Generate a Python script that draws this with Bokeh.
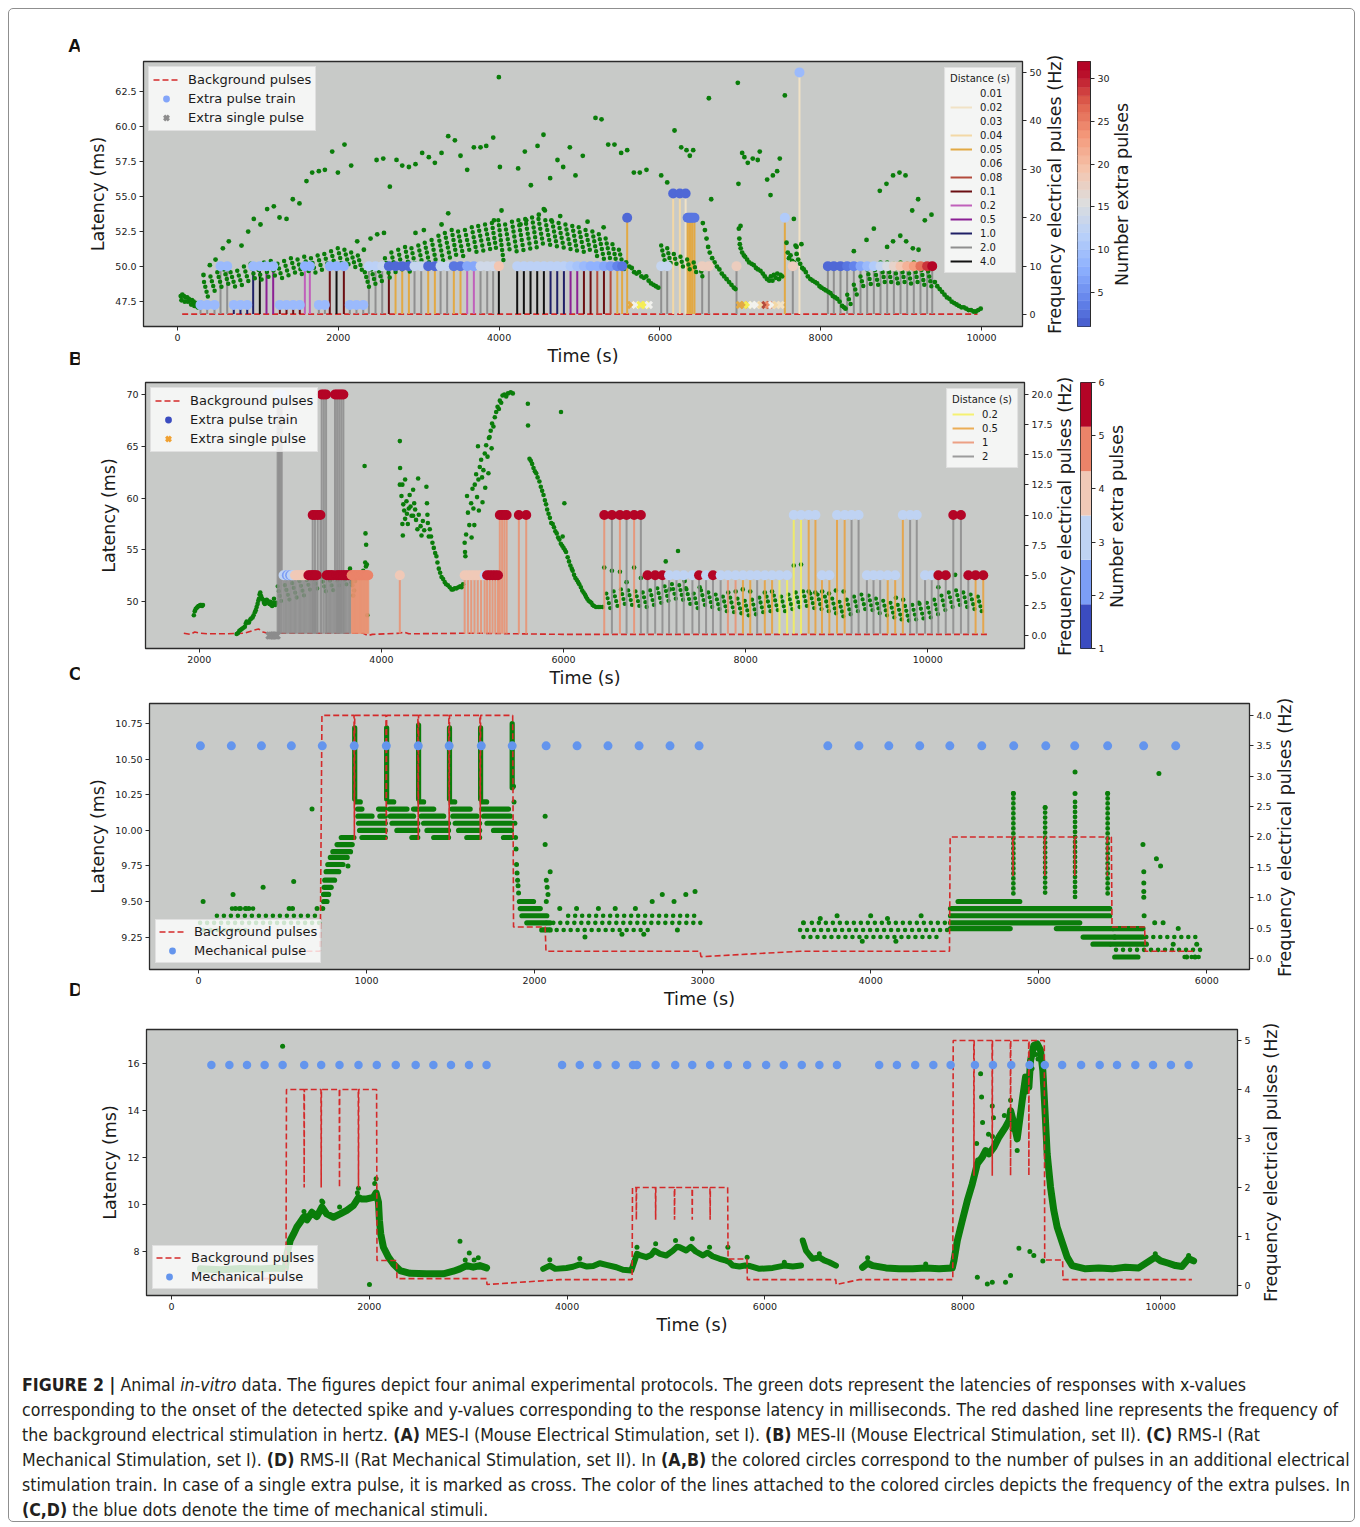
import numpy as np
from bokeh.plotting import figure
from bokeh.models import (Range1d, LinearAxis, Legend, LegendItem,
                          FixedTicker, NumeralTickFormatter, Div, ColumnDataSource)
from bokeh.layouts import column, row
from bokeh.embed import file_html
from bokeh.resources import INLINE

FONT = "DejaVu Sans"
BG = "#c8cac8"; GREEN = "#0a7d0a"; RED = "#d42a2a"; MECH = "#6495ed"; INK = "#1a1a1a"
FREQ_LABEL = "Frequency electrical pulses (Hz)"
CB_LABEL = "Number extra pulses"

# ======================= DATA =======================
# ---------- Panel A (MES-I) ----------
A_bg = [(58, 0.1), (9950, 0.1)]
# (time s, frequency Hz, number of extra pulses, distance s)
A_trains = [
 (286,2,10,2.0),(369,2,10,2.0),(460,2,10,2.0),(535,10,10,2.0),(618,10,10,2.0),
 (700,2,10,1.0),(783,2,10,1.0),(867,2,10,1.0),(941,10,10,1.0),(1024,10,10,4.0),
 (1107,10,10,0.5),(1190,10,10,0.5),(1273,2,10,0.1),(1356,2,10,0.1),(1439,2,10,0.1),
 (1521,2,10,0.1),(1584,10,9,0.2),(1646,10,9,0.2),(1758,2,10,2.0),(1833,2,10,2.0),
 (1894,10,9,0.1),(1978,10,9,4.0),(2069,10,9,0.1),(2143,2,10,2.0),(2226,2,10,2.0),
 (2310,2,10,2.0),(2380,10,13,2.0),(2463,10,13,2.0),(2546,10,14,2.0),(2629,10,3,0.1),
 (2712,10,3,0.05),(2795,10,3,0.05),(2878,10,3,0.05),(2948,10,14,2.0),(3031,10,14,2.0),
 (3118,10,3,0.05),(3201,10,3,0.05),(3272,10,14,2.0),(3354,10,14,2.0),(3437,10,4,0.05),
 (3520,10,4,0.05),(3603,10,8,0.2),(3686,10,8,0.2),(3769,10,15,2.0),(3852,10,15,2.0),
 (3926,10,15,2.0),(3997,10,20,4.0),
 (4225,10,13,4.0),(4308,10,13,4.0),(4391,10,13,4.0),(4474,10,13,4.0),(4557,10,13,4.0),
 (4640,10,13,1.0),(4723,10,13,1.0),(4806,10,13,1.0),(4889,10,12,0.5),(4972,10,11,0.5),
 (5055,10,10,0.1),(5138,10,9,0.1),(5221,10,9,0.08),(5304,10,8,0.1),(5387,10,7,0.08),
 (5470,10,5,0.05),(5530,10,4,0.05),(5593,20,3,0.05),
 (6016,10,14,2.0),(6091,10,14,2.0),(6165,25,3,0.04),(6248,25,3,0.04),(6320,25,3,0.02),
 (6345,20,4,0.05),(6365,20,4,0.05),(6385,20,4,0.05),(6405,20,4,0.05),(6430,20,4,0.05),
 (6526,10,19,2.0),(6609,10,19,2.0),(6953,10,19,2.0),(7554,20,12,0.05),(7653,10,19,2.0),
 (7736,50,10,0.02),
 (8089,10,3,2.0),(8163,10,3,2.0),(8246,10,3,2.0),(8329,10,4,2.0),(8412,10,5,2.0),
 (8495,10,8,2.0),(8578,10,10,2.0),(8661,10,12,2.0),(8744,10,14,2.0),(8827,10,16,2.0),
 (8910,10,18,2.0),(8993,10,20,2.0),(9076,10,22,2.0),(9158,10,24,2.0),(9241,10,27,2.0),
 (9324,10,30,2.0),(9387,10,32,2.0)]
# single extra pulses (time s, distance s), drawn at 2 Hz
A_singles = [(5643,0.05),(5697,0.01),(5759,0.03),(5821,0.03),(5862,0.01),(6994,0.05),
 (7044,0.05),(7094,0.03),(7148,0.01),(7202,0.01),(7260,0.04),(7313,0.08),(7355,0.06),
 (7396,0.01),(7450,0.04),(7500,0.02)]
A_single_f = 2
A_dist_levels = [0.01,0.02,0.03,0.04,0.05,0.06,0.08,0.1,0.2,0.5,1.0,2.0,4.0]
A_dist_labels = ["0.01","0.02","0.03","0.04","0.05","0.06","0.08","0.1","0.2","0.5","1.0","2.0","4.0"]
A_dist_colors = ["#f2f2ee","#f1e2c6","#f5ee55","#f3d8a6","#e2a944","#ec8c68","#b34a3c",
                 "#6b0e12","#c060bb","#8b1f94","#1f1f66","#8f8f8f","#111111"]
# latency responses (time s, latency ms)
A_pts = [
 (40,47.9),(50,47.6),(60,48.0),(80,47.9),(90,47.5),(100,47.8),(120,47.8),(130,47.5),(140,47.7),
 (160,47.6),(170,47.3),(180,47.6),(200,47.5),(210,47.2),(220,47.4),(240,47.4),(250,47.1),
 (260,47.3),(280,47.3),(300,47.4),
 (323,49.4),(402,50.1),(473,50.5),(564,51.3),(638,51.8),(796,51.5),(879,52.5),(949,53.4),
 (1032,53.0),(1115,54.1),(1198,54.3),(1269,53.5),(1356,53.4),(1434,54.8),(1517,54.5),
 (1604,56.1),(1675,56.7),(1758,56.8),(1833,56.9),(1924,58.2),(1995,56.7),(2077,58.7),
 (2160,57.2),(2235,51.8),(2318,51.2),(2401,52.0),(2484,52.3),(2568,52.4),(2476,57.6),
 (2559,57.7),(2641,55.7),(2724,57.6),(2795,57.2),(2878,57.1),(2960,57.3),(3043,58.1),
 (3126,57.8),(3201,57.4),(3284,58.1),(3367,59.3),(3450,59.0),(3520,57.9),(3603,56.9),
 (3686,58.5),(3769,58.5),(3840,58.6),(3927,59.2),(4010,57.1),(3997,63.5),(4237,57.0),
 (4320,58.2),(4395,55.8),(4478,58.6),(4552,59.4),(4635,56.3),(4726,57.6),(2960,52.4),
 (3064,52.6),(3284,53.0),(3367,53.8),(3936,53.3),(4030,54.0),(4266,53.0),(4337,53.3),
 (4494,53.7),(4569,54.0),(4797,57.1),(4880,58.5),(4950,56.5),(5041,57.9),(5199,60.6),
 (5274,60.5),(5357,58.7),(5435,58.7),(5518,58.1),(5593,58.3),(5676,56.7),(5750,56.7),
 (5833,56.9),(6016,56.5),(6091,56.0),(6182,59.7),(6265,58.5),(6331,58.3),(6372,57.9),
 (6414,58.3),(6534,53.1),(6609,62.0),(6638,54.8),(6969,63.1),(6977,55.9),(7023,58.1),
 (7051,57.8),(7093,57.4),(7155,57.7),(7217,57.6),(7242,58.2),(7334,56.2),(7376,55.1),
 (7405,56.5),(7458,56.8),(7491,57.7),(7554,62.2),(7666,53.4),(8735,55.4),(8818,55.9),
 (8900,56.5),(8980,56.7),(9055,56.5),(9138,54.0),(9212,54.8),(9295,53.3),(9378,53.7),
 (8570,51.9),(8661,52.7),(8412,51.1),(8826,51.4),(8900,51.8),(8990,52.2),(9063,51.8),
 (9146,51.3),(9217,51.2),(4556,54.1),(4650,53.3),(4760,53.6),(5100,53.2),(5300,52.8),
 (7003,52.9),(7700,51.4),(7760,51.6),
 (5580,50.3),(5620,50.0),(5650,49.9),(5680,49.6),(5710,49.5),(5740,49.6),(5770,49.3),
 (5800,49.2),(5830,49.3),(5860,49.0),(5890,48.8),(5920,48.7),(5950,48.6),(5980,48.5),
 (6560,52.6),(6580,52.0),(6600,51.4),(6620,51.0),(6650,50.6),(6680,50.3),(6710,50.0),
 (6740,49.8),(6770,49.5),(6800,49.3),(6830,49.1),(6860,48.9),(6890,48.7),(6920,48.5),
 (6940,48.4),
 (6982,52.7),(6988,52.0),(6994,51.6),(7005,51.3),(7023,51.0),(7045,50.8),(7060,50.7),
 (7085,50.5),(7110,50.3),(7140,50.2),(7168,50.1),(7195,49.9),(7220,49.8),(7251,49.7),
 (7280,49.5),(7305,49.3),(7334,49.1),(7360,49.0),(7380,49.3),(7400,49.0),(7417,49.4),
 (7440,49.2),(7460,49.5),(7480,49.1),(7500,49.4),(7520,49.3),
 (7575,51.7),(7590,51.0),(7605,50.6),(7625,50.8),(7645,50.4),(7666,50.3),(7687,51.5),
 (7700,50.9),(7720,50.5),(7745,50.2),(7770,49.9),(7790,49.8),(7815,49.6),(7840,49.3),
 (7873,49.1),(7900,49.0),(7930,48.9),(7956,48.8),(7985,48.6),(8010,48.5),(8039,48.4),
 (8065,48.3),(8095,48.2),(8122,48.1),(8150,47.9),(8180,47.8),(8205,47.7),(8235,47.5),
 (8267,47.2),(8290,47.1),(8309,47.0),
 (9420,48.9),(9450,48.6),(9480,48.4),(9510,48.2),(9540,48.0),(9570,47.8),(9600,47.7),
 (9630,47.5),(9660,47.4),(9690,47.3),(9720,47.2),(9750,47.1),(9780,47.1),(9810,47.0),
 (9840,46.9),(9870,46.9),(9900,46.8),(9930,46.8),(9960,46.9),(9990,47.0)]
# sawtooth runs of responses (t start, lat start, t end, lat end)
A_teeth = [
 (330,48.9,380,47.8),(410,49.3,470,48.1),(495,49.6,555,48.4),(578,49.8,640,48.6),
 (660,49.6,720,48.5),(743,49.7,805,48.6),(826,50.0,890,48.8),(910,50.2,970,49.0),
 (993,50.1,1055,48.9),(1076,50.3,1140,49.1),(1160,50.4,1220,49.2),(1243,50.2,1305,49.1),
 (1326,50.4,1390,49.2),(1410,50.6,1470,49.4),(1493,50.5,1555,49.3),(1576,50.7,1640,49.5),
 (1660,50.6,1720,49.5),(1743,50.8,1805,49.6),(1826,50.9,1890,49.7),(1910,51.1,1970,49.8),
 (1993,51.3,2055,49.9),(2076,51.2,2140,49.9),(2160,51.0,2220,49.8),(2243,50.8,2300,49.6),
 (2330,49.6,2390,48.4),(2410,49.8,2470,48.6),(2490,50.0,2550,48.8),(2580,50.6,2640,49.2),
 (2660,51.0,2720,49.4),(2745,51.2,2805,49.5),(2830,51.4,2890,49.6),(2910,51.3,2970,49.7),
 (2995,51.5,3055,49.9),(3075,51.7,3140,50.0),(3160,51.9,3220,50.2),(3245,52.2,3305,50.4),
 (3325,52.4,3390,50.6),(3410,52.6,3470,50.7),(3490,52.5,3555,50.7),(3575,52.6,3640,50.9),
 (3660,52.8,3720,51.0),(3740,52.9,3805,51.1),(3825,53.0,3890,51.2),(3910,53.1,3970,51.0),
 (3990,53.3,4055,50.4),(4075,53.0,4140,50.9),(4160,53.2,4220,51.0),(4240,53.3,4305,51.1),
 (4325,53.4,4390,51.2),(4410,53.5,4470,51.3),(4490,53.4,4555,51.3),(4575,53.3,4640,51.4),
 (4660,53.2,4720,51.4),(4740,53.1,4805,51.3),(4825,53.0,4890,51.2),(4910,52.9,4970,51.1),
 (4990,52.8,5055,51.0),(5075,52.6,5140,50.9),(5160,52.5,5220,50.7),(5240,52.3,5305,50.5),
 (5325,52.0,5390,50.3),(5410,51.6,5470,50.0),(5490,51.2,5555,49.8),
 (6016,51.5,6060,50.4),(6091,51.3,6135,50.2),(6173,50.9,6220,49.9),(6256,50.7,6300,49.7),
 (6339,50.5,6385,49.5),(6420,50.3,6465,49.3),(6500,50.0,6540,49.0),
 (8330,48.0,8380,47.2),(8412,48.7,8460,47.8),(8495,49.3,8545,48.3),(8578,49.8,8630,48.6),
 (8661,50.1,8715,48.7),(8744,50.3,8800,48.8),(8827,50.3,8880,48.8),(8910,50.2,8965,48.7),
 (8993,50.3,9050,48.7),(9076,50.2,9130,48.6),(9158,50.3,9215,48.6),(9241,50.1,9295,48.5),
 (9324,50.0,9380,48.5)]

# ---------- Panel B (MES-II) ----------
B_bg = [(1830,0.2),(1900,0.1),(1950,0.3),(2000,0.2),(2100,0.15),(2300,0.15),(2500,0.2),
 (2600,0.45),(2650,0.55),(2700,0.3),(2750,0.2),(3800,0.2),(3850,0.0),(3900,0.1),(4200,0.2),
 (4250,0.3),(4300,0.15),(5000,0.2),(5500,0.15),(6000,0.1),(10650,0.1)]
B_trains = [
 (2860,20,3,2),(2875,20,3,2),(2890,20,3,2),(2905,20,3,2),
 (2925,5,3,2),(2943,5,3,2),(2961,5,2,2),(2979,5,3,2),(2997,5,2,2),(3015,5,3,2),(3033,5,3,2),
 (3051,5,4,2),(3069,5,4,2),(3088,5,4,2),(3106,5,4,2),(3124,5,4,2),(3142,5,4,2),(3160,5,4,2),
 (3180,5,4,2),(3198,5,6,2),(3216,5,6,2),(3234,5,6,2),(3252,5,6,2),(3270,5,6,2),(3289,5,6,2),
 (3245,10,6,2),(3270,10,6,2),(3300,10,6,2),(3330,10,6,2),
 (3344,20,6,2),(3368,20,6,2),(3392,20,6,2),
 (3399,5,6,2),(3417,5,6,2),(3435,5,6,2),(3453,5,6,2),(3471,5,6,2),
 (3490,20,6,2),(3513,20,6,2),(3536,20,6,2),(3559,20,6,2),(3582,20,6,2),
 (3508,5,6,2),(3526,5,6,2),(3544,5,6,2),(3562,5,6,2),(3581,5,6,2),(3599,5,6,2),(3617,5,6,2),
 (3636,5,6,2),(3655,5,6,2),
 (3673,5,5,1),(3686,5,5,1),(3699,5,5,1),(3712,5,5,1),(3725,5,5,1),(3738,5,5,1),(3751,5,5,1),
 (3764,5,5,1),(3777,5,5,1),(3790,5,5,1),(3803,5,5,1),(3816,5,5,1),(3829,5,5,1),(3842,5,5,1),
 (3855,5,5,1),
 (4202,5,4,1),
 (4914,5,4,1),(4950,5,4,1),(4986,5,4,1),(5022,5,4,1),(5058,5,4,1),(5094,5,4,1),(5133,5,3,1),
 (5160,5,6,1),(5190,5,6,1),(5220,5,6,1),(5250,5,6,1),(5280,5,6,1),
 (5300,10,6,1),(5325,10,6,1),(5350,10,6,1),(5375,10,6,1),(5509,10,6,1),(5590,10,6,1),
 (6447,10,6,1),(6531,10,6,2),(6619,10,6,1),(6692,10,6,2),(6775,10,6,1),(6849,10,6,2),
 (6922,5,6,2),(7006,5,6,2),(7086,5,6,2),(7159,5,3,2),(7240,5,3,2),(7320,5,3,2),(7415,5,3,2),
 (7488,5,6,2),(7565,5,3,2),(7641,5,6,2),(7725,5,3,2),(7805,5,3,1),(7889,5,3,1),(7970,5,3,0.5),
 (8050,5,3,0.5),(8126,5,3,2),(8210,5,3,0.5),(8290,5,3,0.5),(8371,5,3,0.2),(8455,5,3,0.2),
 (8528,10,3,0.2),(8608,10,3,0.2),(8692,10,3,0.5),(8766,10,3,0.5),(8838,5,3,0.5),(8919,5,3,0.5),
 (9003,10,3,0.5),(9087,10,3,0.5),(9163,10,3,2),(9240,10,3,2),(9331,5,3,2),(9404,5,3,2),
 (9477,5,3,2),(9560,5,3,0.5),(9642,5,3,0.5),(9726,10,3,0.5),(9806,10,3,2),(9879,10,3,2),
 (9970,5,3,2),(10043,5,3,2),(10116,5,6,2),(10197,5,6,2),(10280,10,6,2),(10364,10,6,2),
 (10445,5,6,2),(10525,5,6,0.5),(10609,5,6,0.5)]
B_singles = [(2770,2),(2790,2),(2810,2),(2830,2),(2850,2)]
B_single_f = 0
B_dist_levels = [0.2,0.5,1,2]
B_dist_labels = ["0.2","0.5","1","2"]
B_dist_colors = ["#f4f05a","#e9a03a","#ea9170","#8c8c8c"]
B_pts = [
 (1940,48.7),(1950,49.1),(1960,49.3),(1970,49.4),(1980,49.5),(1990,49.6),(2000,49.6),(2010,49.7),
 (2020,49.7),(2030,49.6),(2040,49.7),
 (2410,46.9),(2425,47.0),(2440,47.2),(2455,47.3),(2470,47.4),(2485,47.5),(2500,47.6),(2510,47.9),
 (2520,48.1),(2535,48.0),(2545,48.0),(2560,48.3),(2570,48.4),(2585,48.5),(2596,48.7),(2610,49.0),
 (2620,49.2),(2630,49.5),(2640,49.8),(2648,50.1),(2655,50.3),(2662,50.7),(2669,50.9),(2675,50.6),
 (2680,50.5),(2690,50.3),(2700,50.2),(2710,49.9),(2720,49.8),(2730,50.0),(2740,50.2),(2750,50.1),
 (2760,49.9),(2770,49.8),(2778,50.0),(2790,49.7),(2800,49.6),(2810,49.9),(2820,50.3),(2833,49.7),
 (2845,49.9),
 (3655,53.2),(3665,52.4),(3672,51.9),(3680,51.6),(3690,50.6),(3700,51.1),(3710,52.0),
 (3815,63.1),(3825,56.6),(3832,55.5),(3822,53.8),(3830,53.4),(3840,53.6),(3845,48.7),(3790,52.5),
 (3800,53.0),
 (4202,65.5),(4205,62.9),(4202,61.3),(4230,61.3),(4220,60.2),(4240,59.4),(4250,58.8),(4260,58.0),
 (4275,59.7),(4280,58.5),(4290,57.5),(4300,59.0),(4310,60.3),(4320,59.2),(4330,58.3),(4348,60.8),
 (4348,58.3),(4360,59.5),(4370,58.9),(4380,57.9),(4403,61.9),(4395,57.0),(4410,58.4),(4430,57.3),
 (4440,56.4),(4455,57.8),(4470,56.9),(4494,61.1),(4500,59.5),(4505,58.4),(4510,57.6),(4520,56.3),
 (4531,57.0),(4545,56.3),(4560,55.7),(4575,55.2),(4590,54.7),(4604,54.4),(4615,53.8),(4630,53.2),
 (4645,52.8),(4660,52.4),(4677,52.2),(4695,51.9),(4710,51.7),(4730,51.6),(4750,51.4),(4770,51.2),
 (4786,51.2),(4805,51.3),(4825,51.3),(4845,51.4),(4865,51.5),(4880,51.4),(4896,51.7),(4230,57.5),
 (4235,56.4),(4260,61.8),
 (4914,55.7),(4918,54.8),(4922,54.4),(4930,56.5),(4940,60.2),(4950,58.6),(4965,57.4),(4985,59.5),
 (5000,60.9),(5010,59.0),(5025,61.3),(5040,62.3),(5050,60.1),(5060,65.0),(5065,61.8),(5080,63.0),
 (5095,63.7),(5105,62.0),(5120,62.7),(5135,64.3),(5150,65.1),(5165,64.0),(5180,65.8),(5188,65.9),
 (5200,66.5),(5215,67.2),(5230,66.9),(5245,67.8),(5260,68.3),(5275,68.8),(5290,68.6),(5300,69.4),
 (5315,69.2),(5330,69.9),(5350,70.0),(5370,69.8),(5390,70.1),(5420,70.2),(5443,70.1),(4990,56.2),
 (5020,57.4),(5070,58.8),(5110,59.6),(5140,61.0),(5175,62.4),(5210,64.8),
 (5608,69.1),(5610,67.0),(5626,63.8),(5640,63.6),(5655,63.3),(5670,62.9),(5685,62.6),(5700,62.4),
 (5715,62.0),(5735,61.6),(5750,61.1),(5765,60.7),(5780,60.3),(5795,59.8),(5808,59.4),(5820,58.9),
 (5835,58.5),(5850,58.1),(5865,57.6),(5881,57.5),(5895,57.2),(5910,56.8),(5925,56.6),(5940,56.2),
 (5954,56.0),(5970,55.6),(5985,55.4),(6000,55.2),(6015,55.0),(6027,54.8),(6045,54.3),(6060,53.9),
 (6075,53.5),(6090,53.2),(6100,53.0),(6115,52.6),(6130,52.3),(6145,52.1),(6160,51.9),(6173,51.7),
 (6190,51.4),(6205,51.1),(6220,50.9),(6235,50.7),(6246,50.5),(6260,50.3),(6275,50.1),(6290,50.0),
 (6305,49.9),(6319,49.7),(6335,49.6),(6356,49.5),(6380,49.5),(6400,49.5),(6429,49.5),(5972,68.3),
 (6009,59.5),(5990,56.3),
 (6447,53.3),(6531,53.0),(6619,52.9),(6692,51.9),(6775,53.3),(6849,52.3),(7122,53.9),(7166,51.2),
 (7257,54.9),(7330,52.0),(7342,51.3),(7495,51.4),(7809,50.9),(7890,51.0),(7968,51.2),(8050,51.0),
 (8210,50.9),(8290,51.0),(8528,53.5),(8608,53.6),(8692,51.0),(8765,50.9),(8840,51.0),(8915,50.8),
 (8990,51.1),(9075,51.0),(9650,50.4),(9730,50.2),(9900,49.9),(10116,51.4),(10226,52.5),
 (10300,52.6),(10450,52.4)]
B_teeth = [
 (2860,51.5,2900,50.0),(2940,51.6,2990,50.2),(3020,51.8,3070,50.4),(3100,52.0,3150,50.6),
 (3180,52.1,3230,50.8),(3260,52.2,3310,50.9),(3340,52.4,3390,51.0),(3420,52.5,3470,51.1),
 (3500,52.5,3550,51.2),(3580,52.6,3630,51.3),
 (6470,50.8,6515,49.3),(6550,51.0,6595,49.5),(6630,51.2,6675,49.7),(6710,51.1,6755,49.6),
 (6790,51.0,6835,49.5),(6870,50.9,6915,49.4),(6950,51.1,6995,49.6),(7030,51.3,7075,49.8),
 (7110,51.5,7155,50.0),(7190,51.7,7235,50.2),(7270,51.6,7315,50.1),(7350,51.2,7395,49.7),
 (7430,50.8,7475,49.3),(7510,51.1,7555,49.6),(7590,50.9,7635,49.4),(7670,50.7,7715,49.2),
 (7750,50.5,7795,49.0),(7830,50.4,7875,48.9),(7910,50.3,7955,48.8),(7990,50.1,8035,48.6),
 (8070,50.2,8115,48.7),(8150,50.4,8195,48.9),(8230,50.5,8275,49.0),(8310,50.6,8355,49.1),
 (8390,50.5,8435,49.0),(8470,50.7,8515,49.2),(8550,50.9,8595,49.4),(8630,51.0,8675,49.5),
 (8710,50.8,8755,49.3),(8790,50.7,8835,49.2),(8870,50.5,8915,49.0),(8950,50.3,8995,48.8),
 (9030,50.0,9075,48.5),(9110,50.2,9155,48.7),(9190,50.5,9235,49.0),(9270,50.7,9315,49.2),
 (9350,50.6,9395,49.1),(9430,50.3,9475,48.8),(9510,50.1,9555,48.6),(9590,49.9,9635,48.4),
 (9670,49.7,9715,48.2),(9750,49.6,9795,48.1),(9830,49.7,9875,48.2),(9910,49.8,9955,48.3),
 (9990,49.9,10035,48.4),(10070,50.2,10115,48.7),(10150,50.6,10195,49.1),(10230,50.9,10275,49.4),
 (10310,51.1,10355,49.6),(10390,50.9,10435,49.4),(10470,50.7,10515,49.2),(10550,50.5,10595,49.0)]

# ---------- Panel C (RMS-I) ----------
C_mech_t = [12,196,375,553,737,927,1118,1308,1492,1683,1867,2069,2253,2437,2622,2806,2979,
            3745,3930,4108,4292,4471,4661,4851,5042,5214,5410,5624,5815]
C_mech_f = 3.5
C_bg = [(0,0.12),(725,0.12),(735,4.0),(926,4.0),(928,1.95),(930,4.0),(1116,4.0),(1118,1.95),
 (1120,4.0),(1306,4.0),(1308,1.95),(1310,4.0),(1490,4.0),(1492,1.95),(1494,4.0),(1675,4.0),
 (1677,1.95),(1679,4.0),(1870,4.0),(1875,0.52),(2063,0.52),(2068,0.12),(2985,0.12),(2990,0.03),
 (3580,0.12),(4469,0.12),(4473,2.0),(4845,2.0),(4847,1.36),(4849,2.0),(5034,2.0),(5036,1.36),
 (5038,2.0),(5212,2.0),(5214,1.36),(5216,2.0),(5406,2.0),(5408,1.36),(5410,2.0),(5432,2.0),
 (5436,0.52),(5630,0.52),(5634,0.12),(5918,0.12)]
# dense rows of responses at one latency level (t start, t end, latency ms)
C_rows = [
 (745,765,9.50),(745,775,9.55),(748,790,9.60),(752,810,9.65),(760,835,9.71),(770,860,9.76),
 (785,885,9.81),(800,905,9.85),(825,915,9.90),(850,925,9.95),
 (940,963,10.20),(947,973,10.15),(1072,1112,10.15),(949,1033,10.10),(1080,1112,10.10),
 (953,1112,10.05),(959,1112,10.00),(973,1112,9.95),
 (1132,1162,10.20),(1138,1241,10.15),(1280,1305,10.15),(1142,1280,10.10),(1152,1305,10.05),
 (1181,1305,10.00),(1270,1305,9.95),
 (1318,1340,10.20),(1320,1400,10.15),(1326,1459,10.10),(1340,1488,10.05),(1360,1488,10.00),
 (1400,1488,9.95),
 (1505,1525,10.20),(1508,1617,10.15),(1514,1657,10.10),(1528,1673,10.05),(1548,1673,10.00),
 (1597,1673,9.95),
 (1690,1715,10.20),(1687,1845,10.15),(1697,1855,10.10),(1717,1862,10.05),(1756,1862,10.00),
 (1815,1862,9.95),
 (1910,1994,9.50),(1915,2034,9.45),(1925,2073,9.40),(1954,2093,9.35),(2043,2093,9.30),
 (4520,4887,9.50),(4475,5422,9.45),(4475,5422,9.40),(4475,5244,9.35),(4475,4830,9.31),
 (5105,5442,9.31),(5264,5452,9.25),(5323,5422,9.20),
 (5442,5620,9.31),(5452,5620,9.25),(5432,5640,9.20),(5452,5590,9.11)]
# sparse rows (t start, t end, latency ms)
C_sparse_rows = [(110,720,9.40),(200,330,9.45),(10,725,9.35),(30,300,9.30),(2070,2990,9.35),
 (2090,2700,9.30),(2200,2980,9.40),(3580,4470,9.30),(3600,4400,9.25),(3650,4470,9.35),
 (5460,5960,9.16),(5868,5957,9.11),(5640,5950,9.25)]
# columns of responses right after each stimulus (t, latency top, latency bottom)
C_cols = [(930,10.72,10.22),(1120,10.72,10.22),(1310,10.74,10.22),(1494,10.72,10.22),
 (1679,10.72,10.22),(1867,10.75,10.30)]
C_sparse_cols = [(4849,10.26,9.53),(5038,10.16,9.53),(5216,10.20,9.53),(5410,10.26,9.53)]
C_pts = [(28,9.50),(206,9.55),(385,9.60),(567,9.64),(676,10.15),(706,9.45),(220,9.45),(250,9.45),
 (280,9.45),(300,9.45),(540,9.45),(560,9.45),(740,9.45),(890,9.75),
 (1875,10.31),(1878,10.20),(1883,10.05),(1887,9.95),(1890,9.87),(1893,9.76),(1896,9.70),
 (1899,9.65),(1902,9.61),(1905,9.56),(2063,10.10),(2063,9.90),(2093,9.71),(2070,9.65),
 (2075,9.60),(2080,9.55),(2070,9.50),
 (2150,9.45),(2250,9.45),(2380,9.45),(2480,9.45),(2600,9.45),(2700,9.50),(2760,9.55),(2830,9.50),
 (2900,9.55),(2955,9.57),(2300,9.25),(2520,9.27),(2650,9.27),(2850,9.30),
 (3600,9.35),(3700,9.38),(3800,9.40),(4000,9.40),(4100,9.38),(4300,9.40),(3950,9.22),(4150,9.22),
 (4849,10.26),(5038,10.16),(5216,10.41),(5216,10.26),(5410,10.26),
 (5620,9.90),(5625,9.71),(5625,9.63),(5625,9.57),(5625,9.53),(5627,9.40),(5700,9.80),(5715,10.40),
 (5725,9.75),(5690,9.35),(5740,9.35),(5830,9.31),(5800,9.20),(5880,9.11),(5930,9.11),(5940,9.20)]

# ---------- Panel D (RMS-II) ----------
D_mech_t = [404,586,764,942,1124,1342,1514,1699,1891,2076,2268,2469,2648,2826,3008,3186,
            3949,4128,4306,4491,4666,4706,4895,5093,5265,5446,5625,5820,6012,6190,6372,6550,6728,
            7155,7334,7519,7702,7877,8123,8305,8490,8675,8829,9004,9196,9384,9559,9744,9923,
            10104,10283]
D_mech_f = 4.5
D_bg = [(380,0.14),(1158,0.14),(1163,4.0),(1340,4.0),(1342,2.0),(1344,4.0),(1512,4.0),(1514,2.0),
 (1516,4.0),(1697,4.0),(1699,2.0),(1701,4.0),(1889,4.0),(1891,2.0),(1893,4.0),(2074,4.0),
 (2078,0.51),(2276,0.51),(2280,0.14),(3186,0.14),(3190,0.02),(3926,0.12),(4657,0.12),(4661,2.0),
 (4698,2.0),(4700,1.34),(4702,2.0),(4893,2.0),(4895,1.34),(4897,2.0),(5084,2.0),(5086,1.34),
 (5088,2.0),(5263,2.0),(5265,1.34),(5267,2.0),(5444,2.0),(5446,1.34),(5448,2.0),(5623,2.0),
 (5627,0.54),(5818,0.54),(5822,0.12),(6716,0.12),(6720,0.02),(6953,0.12),(7899,0.12),(7903,5.0),
 (8111,5.0),(8113,2.24),(8115,5.0),(8296,5.0),(8298,2.24),(8300,5.0),(8481,5.0),(8483,2.24),
 (8485,5.0),(8666,5.0),(8668,2.24),(8670,5.0),(8824,5.0),(8828,0.52),(9009,0.52),(9013,0.12),
 (10316,0.12)]
# continuous response traces (lists of (t, latency)) and their drawn thickness
D_traces = [
 [(293,7.26),(500,7.22),(700,7.28),(900,7.25),(1050,7.30),(1151,7.26),(1168,7.9),(1201,8.47),
  (1235,8.75),(1268,9.04),(1302,9.25),(1336,9.46),(1370,9.35),(1420,9.67),(1470,9.49),(1521,9.89),
  (1570,9.6),(1638,9.46),(1706,9.6),(1773,9.75),(1840,9.96),(1891,10.3),(1920,10.24),(1975,10.24),
  (2042,10.31),(2069,10.5),(2093,10.1),(2103,9.32),(2116,8.75),(2143,8.18),(2194,7.76),(2244,7.47),
  (2311,7.19),(2412,7.07),(2580,7.05),(2748,7.05),(2850,7.16),(2917,7.26),(2984,7.4),(3051,7.33),
  (3118,7.4),(3186,7.3)],
 [(3758,7.26),(3825,7.4),(3880,7.26),(3993,7.3),(4060,7.35),(4128,7.45),(4200,7.36),(4264,7.38),
  (4330,7.5),(4397,7.43),(4498,7.33),(4565,7.22),(4649,7.19),(4683,7.61),(4706,7.9),(4733,7.85),
  (4800,7.76),(4850,7.85),(4884,8.04),(4940,7.9),(5002,7.83),(5070,8.04),(5110,8.2),(5137,8.18),
  (5204,8.04),(5250,8.2),(5300,8.0),(5372,7.83),(5420,7.95),(5470,7.8),(5541,7.69),(5608,7.61),
  (5640,7.55),(5675,7.4),(5742,7.36),(5800,7.4),(5850,7.38),(5944,7.26),(6079,7.3),(6196,7.4),
  (6281,7.36),(6365,7.4)],
 [(6382,8.47),(6415,8.04),(6450,7.85),(6482,7.69),(6550,7.75),(6600,7.62),(6650,7.54),(6718,7.4)],
 [(6987,7.33),(7038,7.5),(7088,7.4),(7223,7.3),(7357,7.26),(7492,7.26),(7626,7.3),(7761,7.26),
  (7894,7.3),(7911,7.62),(7945,8.47),(7995,9.32),(8046,10.17),(8096,10.88),(8147,11.74),(8197,12.02),
  (8231,12.3),(8264,12.16),(8315,12.45),(8365,12.87),(8432,13.3),(8470,13.6),(8483,14.0),(8520,13.4),
  (8550,12.8),(8575,13.6),(8601,14.44),(8634,15.43),(8668,15.0),(8685,16.14),(8718,16.78),
  (8752,16.85),(8786,16.57),(8809,15.71),(8829,14.15),(8853,12.16),(8887,10.74),(8920,9.75),
  (8954,9.04),(9004,8.4),(9055,7.76),(9105,7.4),(9240,7.26),(9374,7.3),(9509,7.26),(9643,7.33),
  (9778,7.3),(9946,7.76),(10000,7.6),(10080,7.5),(10150,7.4),(10215,7.36),(10283,7.7),(10333,7.6)]]
D_trace_width = [7, 6, 6, 7]
D_pts = [(1124,16.75),(2002,6.59),(1891,10.7),(2069,11.1),(2055,10.9),(1880,10.5),(1340,9.7),
 (1530,10.1),(1700,9.9),(1520,10.15),(1350,9.55),(2917,8.44),(3011,7.94),(2970,7.64),(3102,7.73),
 (3060,7.64),(3825,7.65),(4128,7.7),(4706,8.18),(4895,8.33),(5096,8.47),(5265,8.54),(5440,8.18),
 (5625,8.18),(5820,7.76),(6196,7.54),(6382,8.47),(6550,7.9),(7038,7.73),(7625,7.47),(8180,15.57),
 (8190,14.58),(8298,14.2),(8310,13.7),(8140,12.6),(8150,11.9),(8147,6.9),(8248,6.62),(8298,6.69),
 (8432,6.69),(8483,6.98),(8567,8.14),(8678,8.0),(8718,7.83),(8809,7.59),(8483,14.44),(8550,12.3),
 (8200,13.5),(8260,13.0),(8300,12.9),(8420,13.8),(8500,13.2),(8640,14.8),(8700,15.8),(8740,16.4),
 (8760,16.2),(9946,7.9),(10283,7.83)]

# ---------- axis ticks ----------
A_xt = [0,2000,4000,6000,8000,10000]; A_yt = [47.5,50.0,52.5,55.0,57.5,60.0,62.5]; A_ft = [0,10,20,30,40,50]
B_xt = [2000,4000,6000,8000,10000]; B_yt = [50,55,60,65,70]; B_ft = [0,2.5,5,7.5,10,12.5,15,17.5,20]
C_xt = [0,1000,2000,3000,4000,5000,6000]; C_yt = [9.25,9.5,9.75,10.0,10.25,10.5,10.75]
C_ft = [0,0.5,1,1.5,2,2.5,3,3.5,4]
D_xt = [0,2000,4000,6000,8000,10000]; D_yt = [8,10,12,14,16]; D_ft = [0,1,2,3,4,5]
A_cb_ticks = [5,10,15,20,25,30]; B_cb_ticks = [1,2,3,4,5,6]

CAPTION = ("<b>FIGURE 2 |</b> Animal <i>in-vitro</i> data. The figures depict four animal experimental protocols. "
 "The green dots represent the latencies of responses with x-values<br>"
 "corresponding to the onset of the detected spike and y-values corresponding to the response latency "
 "in milliseconds. The red dashed line represents the frequency of<br>"
 "the background electrical stimulation in hertz. <b>(A)</b> MES-I (Mouse Electrical Stimulation, set I). "
 "<b>(B)</b> MES-II (Mouse Electrical Stimulation, set II). <b>(C)</b> RMS-I (Rat<br>"
 "Mechanical Stimulation, set I). <b>(D)</b> RMS-II (Rat Mechanical Stimulation, set II). In <b>(A,B)</b> "
 "the colored circles correspond to the number of pulses in an additional electrical<br>"
 "stimulation train. In case of a single extra pulse, it is marked as cross. The color of the lines "
 "attached to the colored circles depicts the frequency of the extra pulses. In<br>"
 "<b>(C,D)</b> the blue dots denote the time of mechanical stimuli.")

# ======================= HELPERS =======================
CW = [(0.0,(59,76,192)),(0.125,(98,130,234)),(0.25,(141,176,254)),(0.375,(184,208,249)),
      (0.5,(221,221,221)),(0.625,(245,196,173)),(0.75,(244,154,123)),(0.875,(222,96,77)),
      (1.0,(180,4,38))]

def cw(t):
    t = min(max(t, 0.0), 1.0)
    for (a, ca), (b, cb) in zip(CW[:-1], CW[1:]):
        if t <= b:
            f = (t - a) / (b - a)
            c = [int(round(ca[i] + f * (cb[i] - ca[i]))) for i in range(3)]
            return "#%02x%02x%02x" % tuple(c)
    return "#b40426"

def unzip(pairs, k):
    return [p[k] for p in pairs]

def style_axis(ax, ticks, fmt=None, label=None, label_standoff=3):
    ax.ticker = FixedTicker(ticks=ticks)
    if fmt:
        ax.formatter = NumeralTickFormatter(format=fmt)
    ax.axis_label = label
    ax.axis_label_text_font = FONT
    ax.axis_label_text_font_size = "17.5px"
    ax.axis_label_text_font_style = "normal"
    ax.axis_label_text_color = INK
    ax.major_label_text_font = FONT
    ax.major_label_text_font_size = "9.5px"
    ax.major_label_text_color = INK
    ax.major_tick_out = 4; ax.major_tick_in = 0
    ax.minor_tick_out = 0; ax.minor_tick_in = 0
    ax.major_tick_line_color = "#2b2b2b"
    ax.axis_line_color = "#2b2b2b"
    ax.major_label_standoff = 3
    ax.axis_label_standoff = label_standoff

def make_fig(w, h, xr, yr, fr, bl, br, bt, bb, xt, yt, ft, yfmt, ffmt):
    p = figure(width=w, height=h, x_range=Range1d(*xr), y_range=Range1d(*yr),
               output_backend="svg", toolbar_location=None,
               min_border_left=bl, min_border_right=br, min_border_top=bt, min_border_bottom=bb,
               background_fill_color=BG, border_fill_color="white")
    p.outline_line_color = "#2b2b2b"; p.outline_line_width = 1.3
    p.xgrid.visible = False; p.ygrid.visible = False
    p.extra_y_ranges = {"freq": Range1d(*fr)}
    rax = LinearAxis(y_range_name="freq")
    p.add_layout(rax, "right")
    style_axis(p.below[0], xt, None, "Time (s)", 2)
    style_axis(p.left[0], yt, yfmt, "Latency (ms)", 4)
    style_axis(rax, ft, ffmt, None)
    return p

def letters_div(w, h, items):
    html = '<div style="position:relative;width:%dpx;height:%dpx;">' % (w, h)
    for t, x, y in items:
        html += ('<div style="position:absolute;left:%dpx;top:%dpx;font-family:\'Liberation Sans\','
                 'Arial,sans-serif;font-weight:bold;font-size:19px;line-height:17px;color:#111;">%s</div>'
                 % (x, y, t))
    html += '</div>'
    return Div(text=html, width=w, height=h, margin=0)

def vtext_div(w, h, cx, cy, text, length=290):
    html = ('<div style="position:relative;width:%dpx;height:%dpx;">'
            '<div style="position:absolute;left:%dpx;top:%dpx;width:22px;height:%dpx;'
            'writing-mode:vertical-rl;transform:rotate(180deg);text-align:center;'
            'font-family:\'DejaVu Sans\',sans-serif;font-size:17.5px;line-height:22px;'
            'white-space:nowrap;color:#1a1a1a;">%s</div></div>'
            % (w, h, cx - 11, cy - length // 2, length, text))
    return Div(text=html, width=w, height=h, margin=0)

def style_legend(lg, fs="13px", lh=17, gw=26, pad=4, spacing=2):
    lg.label_text_font = FONT; lg.label_text_font_size = fs; lg.label_text_color = INK
    lg.glyph_width = gw; lg.glyph_height = lh; lg.label_height = lh
    lg.spacing = spacing; lg.padding = pad; lg.margin = 5; lg.label_standoff = 9
    lg.background_fill_color = "white"; lg.background_fill_alpha = 0.8
    lg.border_line_color = "#cccccc"; lg.border_line_width = 1

def cbar_fig(w, h, bl, bt, bb, cwid, lo, hi, edges, colors, ticks, seam):
    br = w - bl - cwid
    c = figure(width=w, height=h, x_range=Range1d(0, 1), y_range=Range1d(lo, hi),
               output_backend="svg", toolbar_location=None, x_axis_location=None,
               y_axis_location="right", min_border_left=bl, min_border_right=br,
               min_border_top=bt, min_border_bottom=bb, background_fill_color="white",
               border_fill_color="white")
    c.grid.visible = False
    c.outline_line_color = "#2b2b2b"; c.outline_line_width = 1
    c.quad(left=0, right=1, bottom=edges[:-1], top=edges[1:], fill_color=colors,
           line_color=colors if seam else None, line_width=0.6)
    style_axis(c.right[0], ticks, None, None)
    return c

def pulse_panel(p, trains, singles, single_f, dlev, dlab, dcol, nmax, base, stem_alpha,
                pts, teeth, dot_size, dots_first, bg, leg_train_col, leg_single_col):
    dmap = {d: c for d, c in zip(dlev, dcol)}
    r_bg = p.line(unzip(bg, 0), unzip(bg, 1), y_range_name="freq", line_color=RED,
                  line_width=1.6, line_dash="6 3")
    def draw_dots():
        p.scatter(unzip(pts, 0), unzip(pts, 1), size=dot_size, fill_color=GREEN,
                  line_color=None)
        p.segment(x0=unzip(teeth, 0), y0=unzip(teeth, 1), x1=unzip(teeth, 2), y1=unzip(teeth, 3),
                  line_color=GREEN, line_width=dot_size - 0.3, line_dash="0 5", line_cap="round")
    if dots_first:
        draw_dots()
    stem_items = []
    for d, lab in zip(dlev, dlab):
        sel = [tr for tr in trains if tr[3] == d]
        r = p.segment(x0=[tr[0] for tr in sel], y0=[base] * len(sel), x1=[tr[0] for tr in sel],
                      y1=[tr[1] for tr in sel], y_range_name="freq", line_color=dmap[d],
                      line_width=2, line_alpha=stem_alpha)
        stem_items.append(LegendItem(label=lab, renderers=[r]))
    if not dots_first:
        draw_dots()
    p.scatter([tr[0] for tr in trains], [tr[1] for tr in trains], y_range_name="freq", size=10,
              fill_color=[cw((tr[2] - 1) / (nmax - 1)) for tr in trains], line_color=None)
    p.scatter([s[0] for s in singles], [single_f] * len(singles), y_range_name="freq",
              marker="x", size=9, line_width=3, line_color=[dmap[s[1]] for s in singles])
    d1 = p.scatter([np.nan], [np.nan], size=10, fill_color=leg_train_col, line_color=None)
    d2 = p.scatter([np.nan], [np.nan], marker="x", size=9, line_width=3, line_color=leg_single_col)
    lg = Legend(items=[LegendItem(label="Background pulses", renderers=[r_bg]),
                       LegendItem(label="Extra pulse train", renderers=[d1]),
                       LegendItem(label="Extra single pulse", renderers=[d2])],
                location="top_left")
    style_legend(lg)
    p.add_layout(lg)
    lg2 = Legend(items=stem_items, location="top_right", title="Distance (s)")
    style_legend(lg2, fs="10px", lh=12, gw=22, pad=5, spacing=2)
    lg2.margin = 6; lg2.label_standoff = 8
    lg2.title_text_font = FONT; lg2.title_text_font_size = "10px"
    lg2.title_text_font_style = "normal"; lg2.title_text_color = INK; lg2.title_standoff = 3
    p.add_layout(lg2)

def mech_panel(p, mech_t, mech_f, bg, dot_size):
    r_bg = p.line(unzip(bg, 0), unzip(bg, 1), y_range_name="freq", line_color=RED,
                  line_width=1.6, line_dash="6 3")
    r_m = p.scatter(mech_t, [mech_f] * len(mech_t), y_range_name="freq", size=dot_size,
                    fill_color=MECH, line_color=None)
    lg = Legend(items=[LegendItem(label="Background pulses", renderers=[r_bg]),
                       LegendItem(label="Mechanical pulse", renderers=[r_m])],
                location="bottom_left")
    style_legend(lg, pad=3)
    lg.margin = 6
    p.add_layout(lg)

LW = 70  # width of the strip that holds the panel letters

# ======================= PANEL A =======================
pA = make_fig(965, 359, (-423, 10510), (45.73, 64.62), (-2.46, 52.25),
              64, 22, 52, 40, A_xt, A_yt, A_ft, "0.0", None)
pulse_panel(pA, A_trains, A_singles, A_single_f, A_dist_levels, A_dist_labels, A_dist_colors,
            32, 0.1, 1.0, A_pts, A_teeth, 4.8, False, A_bg, cw(0.22), "#8c8c8c")
A_edges = np.arange(1, 33)
cbA = cbar_fig(42, 359, 7, 52, 40, 14, 1, 32, list(A_edges),
               [cw((e - 0.5) / 31) for e in A_edges[1:]], A_cb_ticks, True)
rowA = row(letters_div(LW, 359, [("A", 59, 28), ("B", 60, 341)]), pA,
           vtext_div(26, 359, 11, 185, FREQ_LABEL), cbA,
           vtext_div(242, 359, 10, 185, CB_LABEL, 220))

# ======================= PANEL B =======================
pB = make_fig(976, 322, (1409, 11062), (45.5, 71.15), (-1.07, 20.99),
              66, 30, 14, 40, B_xt, B_yt, B_ft, "0", "0.0")
pulse_panel(pB, B_trains, B_singles, B_single_f, B_dist_levels, B_dist_labels, B_dist_colors,
            6, 0.15, 0.85, B_pts, B_teeth, 4.6, True, B_bg, "#3b4cc0", "#f0a030")
B_edges = [1 + 5 * k / 6 for k in range(7)]
cbB = cbar_fig(31, 322, 4, 14, 40, 13, 1, 6, B_edges, [cw(k / 5) for k in range(6)],
               B_cb_ticks, False)
rowB = row(letters_div(LW, 322, [("C", 60, 297)]), pB,
           vtext_div(21, 322, 10, 148, FREQ_LABEL), cbB,
           vtext_div(247, 322, 10, 148, CB_LABEL, 220))

# ======================= PANEL C =======================
pC = make_fig(1195, 321, (-291, 6254), (9.022, 10.892), (-0.18, 4.196),
              70, 24, 13, 40, C_xt, C_yt, C_ft, "0.00", "0.0")
pC.segment(x0=unzip(C_sparse_rows, 0), y0=unzip(C_sparse_rows, 2), x1=unzip(C_sparse_rows, 1),
           y1=unzip(C_sparse_rows, 2), line_color=GREEN, line_width=4.6, line_dash="0 7",
           line_cap="round")
pC.segment(x0=unzip(C_rows, 0), y0=unzip(C_rows, 2), x1=unzip(C_rows, 1), y1=unzip(C_rows, 2),
           line_color=GREEN, line_width=5.2, line_cap="round")
pC.segment(x0=unzip(C_cols, 0), y0=unzip(C_cols, 1), x1=unzip(C_cols, 0), y1=unzip(C_cols, 2),
           line_color=GREEN, line_width=5.2, line_cap="round")
pC.segment(x0=unzip(C_sparse_cols, 0), y0=unzip(C_sparse_cols, 1), x1=unzip(C_sparse_cols, 0),
           y1=unzip(C_sparse_cols, 2), line_color=GREEN, line_width=4.8, line_dash="0 5",
           line_cap="round")
pC.scatter(unzip(C_pts, 0), unzip(C_pts, 1), size=5, fill_color=GREEN, line_color=None)
mech_panel(pC, C_mech_t, C_mech_f, C_bg, 9)
rowC = row(letters_div(LW, 321, [("D", 60, 291)]), pC, vtext_div(80, 321, 11, 147, FREQ_LABEL))

# ======================= PANEL D =======================
pD = make_fig(1244, 329, (-252, 10777), (6.125, 17.46), (-0.204, 5.224),
              137, 14, 18, 45, D_xt, D_yt, D_ft, "0", "0")
src_tr = ColumnDataSource(dict(xs=[[q[0] for q in tr] for tr in D_traces],
                               ys=[[q[1] for q in tr] for tr in D_traces], lw=D_trace_width))
pD.multi_line(xs="xs", ys="ys", line_width="lw", source=src_tr, line_color=GREEN,
              line_join="round", line_cap="round")
pD.scatter(unzip(D_pts, 0), unzip(D_pts, 1), size=5, fill_color=GREEN, line_color=None)
mech_panel(pD, D_mech_t, D_mech_f, D_bg, 8.5)
rowD = row(pD, vtext_div(101, 329, 18, 151, FREQ_LABEL))

# ======================= CAPTION / LAYOUT =======================
cap = Div(text=('<div style="font-family:\'Liberation Sans Narrow\',\'Arial Narrow\',\'DejaVu Sans Condensed\',sans-serif;'
                'font-stretch:condensed;font-size:17.6px;line-height:25px;color:#231f20;white-space:nowrap;'
                'padding:33px 0 0 13px;">' + CAPTION + '</div>'),
          width=1345, height=181, margin=0)

layout = column(rowA, rowB, rowC, rowD, cap,
                margin=(8, 5, 0, 8),
                styles={"border": "1px solid #8f8f8f", "border-radius": "5px"})

open("out.html", "w").write(file_html(layout, INLINE))
